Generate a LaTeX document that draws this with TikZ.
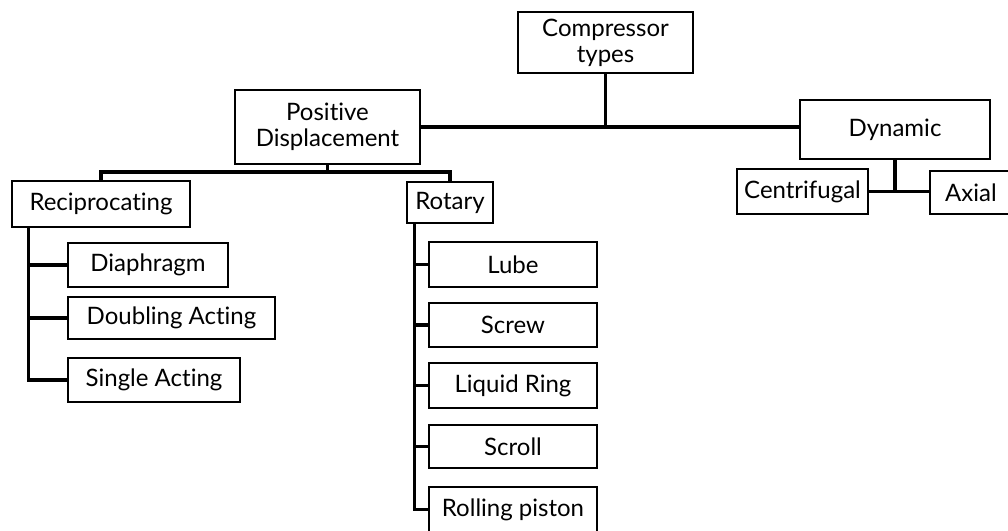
\documentclass[tikz,border=0pt]{standalone}
\usepackage{fontspec}
\setmainfont{Lato}[Ligatures=NoCommon]
\begin{document}
\begin{tikzpicture}[x=1pt,y=-1pt,line join=miter,
    box/.style={draw,line width=2.8pt,inner sep=0pt,align=center,
        font=\fontsize{24}{26}\selectfont},
    link/.style={line width=3.4pt}]
            \clip (0,0) rectangle (1008,530);
            % top levels
            \node[box,minimum width=175,minimum height=61] (comp) at (605.5,42.5) {Compressor\\types};
            \node[box,minimum width=185,minimum height=74] (pd) at (327.5,127) {Positive\\Displacement};
            \node[box,minimum width=190,minimum height=59] (dyn) at (895,129.5) {Dynamic};
            \node[box,minimum width=131,minimum height=45] (cent) at (802.5,191.5) {Centrifugal};
            \node[box,minimum width=82,minimum height=43] (axial) at (971,192.5) {Axial};
            \node[box,minimum width=178,minimum height=46] (recip) at (101,204) {Reciprocating};
            \node[box,minimum width=86,minimum height=41] (rot) at (450,202.5) {Rotary};
            % reciprocating types
            \node[box,minimum width=160,minimum height=44] (diaph) at (148,265) {Diaphragm};
            \node[box,minimum width=207,minimum height=42] (dbl) at (171.5,318) {Doubling Acting};
            \node[box,minimum width=172,minimum height=44] (single) at (154,380) {Single Acting};
            % rotary types
            \foreach \n/\y/\h/\t in {lube/264.5/45/Lube,screw/325/44/Screw,liquid/385.5/45/Liquid Ring,
                scroll/446.5/43/Scroll,rolling/509.5/45/Rolling piston}
                \node[box,minimum width=168,minimum height=\h] (\n) at (513,\y) {\t};
            % connectors
            \draw[link] (comp.south) -- (comp.south |- pd.east);
            \draw[link] (pd.east) -- (pd.east -| dyn.west);
            \coordinate (pdj) at (pd.south |- 0,172);
            \draw[link] (pd.south) -- (pdj);
            \draw[link] (recip.north) |- (pdj) -| (rot.north);
            \draw[link] (dyn.south) -- (dyn.south |- cent.east);
            \draw[link] (cent.east) -- (cent.east -| axial.west);
            \coordinate (rsp) at ([xshift=18]recip.south west);
            \draw[link] (rsp) |- (single.west);
            \foreach \n in {diaph,dbl}\draw[link] (rsp |- \n.west) -- (\n.west);
            \coordinate (tsp) at ([xshift=9]rot.south west);
            \draw[link] (tsp) |- (rolling.west);
            \foreach \n in {lube,screw,liquid,scroll}\draw[link] (tsp |- \n.west) -- (\n.west);
        \end{tikzpicture}
\end{document}
